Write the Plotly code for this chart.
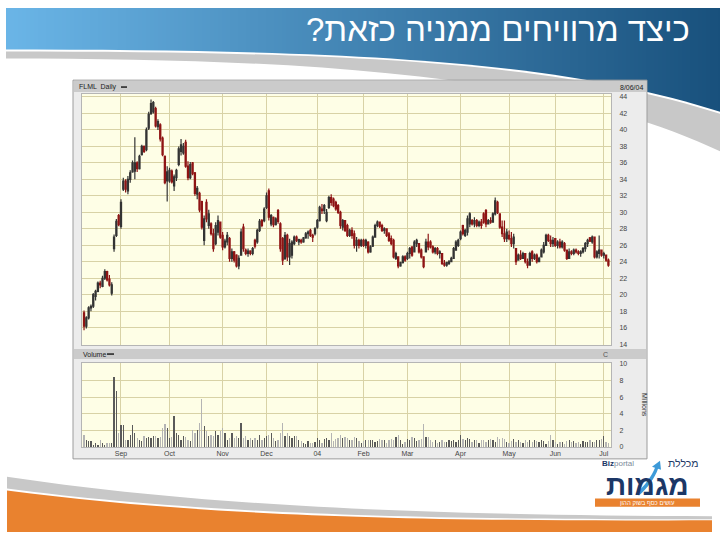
import pandas as pd
import plotly.graph_objects as go

# ---------------- data ----------------
opens = [
    17.8, 16.2, 17.2, 18.4, 18.6, 19.8, 20.4, 21.4, 21.0, 22.0, 22.8, 21.9, 20.2, 25.6, 27.2, 29.6,
    28.3, 32.8, 33.8, 32.6, 34.0, 34.9, 35.0, 36.0, 35.3, 37.0, 38.0, 37.6, 40.2, 42.0, 42.2, 42.6, 40.4, 40.6, 39.0, 36.8, 33.8,
    33.8, 35.0, 33.2, 34.2, 35.8, 37.4, 37.2, 38.5, 35.6, 34.2, 36.0, 34.8, 32.2, 32.3, 31.3, 26.6, 31.2, 28.4, 28.6, 27.4, 26.2, 27.6, 28.8,
    27.2, 25.8, 26.4, 26.8, 24.4, 25.2, 24.8, 23.5, 24.8, 28.2, 25.4, 25.0, 25.3, 25.0, 26.6, 26.4, 27.8, 29.0, 29.0,
    30.6, 32.6, 28.6, 29.4, 28.5, 30.2, 28.6, 26.8, 24.4, 27.2, 24.6, 24.8, 26.2, 27.0, 26.4, 26.6, 26.4, 26.9, 27.4, 27.8, 27.2, 27.4,
    28.2, 29.0, 30.4, 30.2, 29.0, 30.6, 31.8, 31.6, 31.2, 30.8, 30.0, 28.2, 29.0, 28.4, 27.2, 27.8, 27.4, 26.0, 26.6, 26.0,
    26.6, 26.0, 26.4, 25.2, 25.9, 27.0, 28.4, 28.8, 28.4, 27.8, 28.0, 27.4, 26.8, 26.6, 24.4, 24.6, 23.5, 23.9, 24.6,
    24.4, 25.0, 25.8, 25.2, 26.2, 26.2, 25.4, 24.6, 25.2, 26.4, 26.4, 25.8, 25.2, 25.6, 25.0, 25.0, 23.8, 23.6, 23.8, 24.0, 24.4, 25.4, 26.0,
    26.8, 28.4, 27.2, 27.6, 28.6, 29.0, 28.6, 29.0, 28.4, 28.8, 29.8, 30.2, 28.6, 29.0, 28.8, 29.8, 31.2, 29.8, 28.2, 27.4, 26.8,
    27.2, 26.8, 26.2, 25.6, 24.2, 24.8, 24.4, 25.0, 24.0, 23.6, 25.2, 24.4, 24.8, 24.0, 24.6, 25.2, 26.0, 27.2, 26.6, 26.2,
    26.8, 26.0, 26.4, 25.8, 26.2, 25.4, 24.4, 25.2, 25.0, 25.4, 25.2, 25.0, 25.2, 25.6, 26.2, 26.9, 26.4, 27.0, 24.6, 25.0, 25.4,
    24.8, 24.8, 24.2,
]
highs = [
    18.1, 17.4, 18.6, 18.8, 20.2, 20.6, 21.6, 21.7, 22.3, 23.1, 22.9, 22.4, 21.5, 27.3, 29.2, 29.8,
    31.6, 34.2, 34.0, 34.4, 35.1, 36.3, 39.1, 36.2, 37.0, 38.2, 38.1, 40.3, 42.2, 43.7, 43.5, 42.8, 41.3, 40.8, 39.2, 36.9, 35.6,
    35.4, 35.2, 34.6, 35.3, 38.0, 38.9, 38.4, 38.8, 36.2, 36.1, 36.1, 34.9, 33.2, 32.5, 31.4, 29.6, 31.6, 30.3, 28.8, 28.0, 28.8, 29.6, 28.9,
    27.6, 26.8, 27.6, 27.0, 25.6, 25.3, 24.9, 24.8, 28.0, 28.6, 25.6, 25.6, 25.4, 25.8, 26.8, 28.0, 29.2, 29.2, 30.6,
    32.4, 32.9, 29.8, 29.5, 29.4, 30.4, 28.8, 27.0, 27.6, 27.4, 26.8, 26.6, 27.2, 27.2, 26.8, 26.8, 27.0, 27.6, 27.8, 28.0, 27.4, 28.2,
    29.2, 30.8, 31.0, 31.0, 30.4, 32.0, 32.2, 31.8, 31.4, 31.0, 30.2, 29.2, 29.0, 28.6, 28.0, 28.2, 27.8, 27.0, 26.8, 26.8,
    26.8, 26.8, 26.5, 26.0, 27.2, 28.6, 29.0, 28.9, 28.6, 28.2, 28.0, 27.6, 27.2, 26.8, 25.2, 24.6, 24.0, 24.8, 24.8,
    25.2, 25.8, 25.8, 26.6, 26.8, 26.2, 25.6, 24.6, 26.8, 27.4, 26.6, 26.0, 25.8, 25.8, 25.4, 25.0, 24.2, 24.0, 24.2, 24.6, 25.8, 26.6, 26.8,
    27.8, 28.5, 28.0, 29.6, 30.0, 29.2, 29.4, 29.2, 29.0, 29.2, 30.0, 30.4, 29.2, 29.4, 30.0, 31.8, 31.4, 29.9, 29.0, 29.0, 28.0,
    27.8, 27.6, 27.4, 25.6, 25.0, 25.4, 25.2, 25.0, 24.4, 25.2, 25.4, 25.0, 25.0, 24.6, 25.6, 26.4, 27.4, 27.4, 27.2, 27.0,
    26.8, 26.6, 26.8, 26.6, 26.4, 25.4, 25.6, 25.4, 25.6, 25.6, 25.4, 25.4, 25.8, 26.4, 26.8, 27.0, 27.2, 27.0, 25.4, 27.2, 25.4,
    25.2, 24.8, 24.4,
]
lows = [
    15.7, 15.9, 17.0, 18.0, 18.4, 19.3, 20.3, 20.8, 20.9, 21.8, 21.6, 21.0, 19.9, 25.2, 27.0, 28.3,
    28.0, 32.6, 32.4, 32.2, 33.6, 34.8, 34.0, 34.9, 35.2, 36.9, 37.2, 37.4, 40.0, 41.8, 42.0, 40.3, 40.0, 38.6, 36.8, 33.4, 31.3,
    33.6, 33.5, 32.6, 33.8, 35.6, 36.9, 37.0, 35.4, 33.9, 34.0, 34.5, 32.0, 31.6, 30.0, 27.9, 26.0, 28.8, 28.0, 27.2, 25.2, 26.0, 27.2, 26.8,
    25.4, 25.6, 26.0, 24.0, 24.0, 23.9, 23.3, 23.1, 24.8, 25.2, 24.8, 24.6, 24.8, 24.8, 25.6, 26.2, 27.6, 28.2, 28.8,
    30.4, 29.0, 28.3, 28.2, 28.4, 28.6, 25.2, 23.6, 24.2, 24.1, 23.6, 24.4, 26.0, 26.4, 26.0, 26.2, 26.3, 26.8, 26.8, 27.0, 26.4, 27.2,
    28.0, 28.9, 29.8, 29.8, 28.8, 30.4, 30.8, 30.6, 30.2, 29.8, 28.0, 27.8, 27.6, 27.0, 27.0, 26.8, 25.6, 25.2, 25.6, 25.8,
    25.8, 25.6, 25.0, 25.1, 25.8, 26.9, 28.2, 28.1, 27.6, 27.4, 27.0, 26.4, 26.0, 24.4, 24.2, 23.2, 23.4, 23.8, 24.0,
    24.2, 24.4, 24.6, 25.2, 25.8, 25.0, 24.4, 23.2, 25.2, 25.4, 25.6, 25.0, 24.9, 24.8, 24.4, 23.6, 23.4, 23.4, 23.6, 24.0, 24.4, 25.4, 25.8,
    26.6, 27.2, 27.0, 27.2, 28.2, 28.4, 28.2, 28.2, 28.2, 28.0, 28.6, 28.2, 28.6, 28.6, 28.8, 29.6, 29.8, 28.0, 27.0, 26.4, 26.4,
    26.6, 25.8, 25.6, 23.6, 24.2, 24.2, 24.4, 23.8, 23.2, 23.6, 24.0, 24.2, 23.8, 24.0, 24.6, 25.0, 26.0, 26.4, 25.8, 25.8,
    25.8, 25.6, 25.6, 25.6, 25.2, 24.2, 24.4, 24.8, 24.8, 25.0, 24.8, 24.6, 25.0, 25.2, 25.8, 26.4, 26.2, 24.4, 24.4, 24.4, 24.6,
    24.4, 24.0, 23.4,
]
closes = [
    16.2, 17.2, 18.4, 18.6, 20.0, 20.4, 21.4, 21.2, 22.0, 22.8, 21.8, 21.2, 21.2, 27.0, 28.9, 28.5,
    31.2, 33.8, 32.8, 34.0, 34.8, 36.0, 36.0, 35.3, 36.8, 38.0, 37.4, 40.0, 41.9, 43.2, 43.3, 40.5, 41.0, 38.9, 37.0, 33.6, 34.9,
    35.1, 33.7, 34.3, 35.1, 37.7, 38.2, 38.0, 35.6, 34.2, 35.8, 34.7, 32.3, 32.9, 30.3, 28.2, 29.2, 29.2, 29.8, 27.4, 25.6, 28.4, 29.0, 27.0,
    25.8, 26.5, 27.2, 24.4, 25.2, 24.2, 23.5, 24.4, 27.6, 25.6, 25.0, 25.3, 25.0, 25.6, 25.9, 27.8, 28.9, 28.4, 30.4,
    32.0, 29.4, 29.6, 28.5, 29.2, 28.9, 25.6, 24.2, 27.2, 24.6, 26.2, 26.4, 27.0, 26.6, 26.7, 26.4, 26.9, 27.4, 27.6, 27.2, 27.0, 28.0,
    29.0, 30.6, 30.2, 30.8, 30.0, 31.8, 31.2, 30.8, 30.4, 30.0, 28.4, 29.0, 27.8, 27.2, 27.8, 27.2, 26.0, 26.6, 26.0, 26.6,
    26.0, 26.6, 25.2, 25.8, 27.0, 28.4, 28.8, 28.3, 27.8, 28.0, 27.2, 26.6, 26.2, 24.6, 25.0, 23.5, 23.9, 24.6, 24.2,
    25.0, 25.6, 24.8, 26.4, 26.6, 25.2, 24.6, 23.4, 26.4, 25.8, 25.8, 25.2, 25.6, 25.0, 25.2, 23.8, 23.6, 23.9, 24.0, 24.4, 25.6, 26.4, 26.6,
    27.6, 27.4, 27.8, 29.2, 29.8, 28.6, 29.0, 28.4, 28.8, 28.4, 28.8, 28.6, 29.0, 28.8, 29.8, 31.4, 30.0, 28.2, 27.4, 26.8, 27.6,
    26.8, 26.2, 27.0, 24.0, 24.8, 24.4, 25.0, 24.0, 23.6, 25.0, 24.4, 24.8, 24.0, 24.4, 25.4, 26.0, 27.2, 26.6, 26.2, 26.6,
    26.0, 26.4, 25.8, 26.4, 25.4, 24.4, 25.2, 25.0, 25.4, 25.2, 25.0, 25.2, 25.6, 26.2, 26.6, 26.5, 27.0, 24.6, 25.2, 25.4, 24.8,
    25.0, 24.2, 23.6,
]
volumes = [  # millions of shares
    1.5, 0.8, 0.7, 0.7, 0.3, 0.5, 0.3, 0.9, 0.5, 0.3, 0.5, 0.5, 0.5, 8.4, 6.8, 1.7,
    2.7, 2.7, 0.9, 0.9, 1.5, 2.7, 1.7, 1.1, 0.9, 0.7, 1.3, 1.1, 1.2, 1.1, 1.3, 1.3, 1.1, 1.2, 2.3, 2.8, 2.3,
    1.1, 1.2, 3.7, 1.7, 1.5, 0.9, 1.3, 1.2, 0.9, 0.7, 2.1, 1.7, 2.0, 2.9, 5.8, 2.5, 1.9, 1.3, 1.5, 1.3, 1.9, 1.5, 1.9,
    2.3, 1.7, 0.9, 1.1, 1.7, 1.1, 1.3, 1.1, 2.9, 1.1, 1.3, 0.9, 1.1, 0.9, 1.1, 0.9, 1.5, 0.9, 1.1,
    1.3, 1.5, 1.7, 1.1, 0.7, 0.9, 1.7, 2.9, 1.3, 1.7, 1.3, 1.1, 1.3, 1.3, 0.8, 0.7, 0.5, 0.4, 0.7, 0.5, 0.5, 0.55,
    1.1, 0.9, 0.5, 0.95, 1.1, 0.8, 1.7, 0.75, 0.95, 1.1, 1.5, 1.1, 1.2, 1.1, 0.9, 0.8, 1.2, 1.1, 0.7, 0.5,
    0.7, 0.9, 0.8, 0.9, 0.8, 0.6, 0.7, 1.0, 0.8, 0.8, 0.5, 0.8, 1.0, 0.8, 1.2, 1.5, 0.8, 0.4, 0.6,
    1.0, 0.8, 1.2, 1.1, 0.7, 0.8, 1.0, 2.8, 1.2, 1.2, 0.8, 0.6, 0.8, 0.5, 0.6, 0.8, 0.6, 0.6, 0.8, 0.7, 0.9, 0.6, 0.8,
    1.4, 1.0, 0.8, 1.1, 1.0, 0.6, 0.8, 0.8, 0.5, 0.8, 0.8, 0.6, 0.8, 1.0, 0.8, 0.6, 1.2, 1.0, 1.1, 1.0, 0.6,
    0.5, 0.7, 1.0, 0.6, 0.8, 0.6, 0.5, 0.9, 0.6, 0.8, 0.6, 0.8, 0.7, 0.6, 0.8, 0.7, 0.4, 0.7, 1.5, 0.8,
    0.6, 0.4, 0.6, 0.6, 0.4, 0.7, 0.8, 0.6, 0.7, 0.5, 0.6, 0.4, 0.7, 0.6, 0.6, 0.8, 0.6, 0.6, 0.8, 0.8, 1.0,
    1.3, 0.6, 0.5,
]
FIRST_DAY = "2003-08-08"
HOLIDAYS = ["2003-09-01", "2003-11-27", "2003-12-25", "2004-01-01", "2004-01-19",
            "2004-02-16", "2004-04-09", "2004-05-31", "2004-06-11", "2004-07-05"]
MONTH_LABELS = ["Sep", "Oct", "Nov", "Dec", "04", "Feb", "Mar", "Apr", "May", "Jun", "Jul"]
PRICE_TICKS = [14, 16, 18, 20, 22, 24, 26, 28, 30, 32, 34, 36, 38, 40, 42, 44]
VOLUME_TICKS = [0, 2, 4, 6, 8, 10]
TITLE = "כיצד מרוויחים ממניה כזאת?"
SYMBOL_LABEL = "FLML  Daily"
DATE_LABEL = "8/06/04"

# ---------------- helpers ----------------
W, H = 720, 540
FONT = "Liberation Sans, DejaVu Sans, sans-serif"


def px(x):
    return x / W


def py(y):
    return 1 - y / H


shapes = []
annotations = []


def rect(x0, y0, x1, y1, fill, line=None, lw=0):
    shapes.append(dict(type="rect", xref="paper", yref="paper", layer="below",
                       x0=px(x0), x1=px(x1), y0=py(y1), y1=py(y0), fillcolor=fill,
                       line=dict(color=line or fill, width=lw)))


def path(cmds, fill, line=None, lw=0):
    parts = []
    for c in cmds:
        op, pts = c[0], c[1:]
        parts.append(op + " ".join(f"{px(x):.5f},{py(y):.5f}" for x, y in pts))
    shapes.append(dict(type="path", xref="paper", yref="paper", layer="below",
                       path=" ".join(parts), fillcolor=fill,
                       line=dict(color=line or fill, width=lw)))


def text(x, y, s, size=7, color="#222", anchor="left", angle=0, family=FONT):
    annotations.append(dict(x=px(x), y=py(y), xref="paper", yref="paper", text=s,
                            showarrow=False, xanchor=anchor, yanchor="middle", borderpad=0,
                            textangle=angle, font=dict(size=size, color=color, family=family)))


# ---------------- slide decoration ----------------
# blue gradient header
c0, c1 = (106, 181, 231), (24, 80, 124)
x = 6
while x < 720:
    t = (x - 6) / 714
    col = "rgb(%d,%d,%d)" % tuple(round(a + (b - a) * t) for a, b in zip(c0, c1))
    rect(x, 5, x + 5, 160, col)
    x += 4
path([("M", (0, 47)), ("C", (350, 47), (560, 58), (720, 110)), ("L", (720, 170)), ("L", (0, 170)), ("Z",)], "white")
path([("M", (6, 49)), ("C", (350, 49), (560, 60), (720, 112)), ("L", (720, 150)),
      ("C", (560, 72), (300, 56), (6, 56)), ("Z",)], "#c8c8c8")

# bottom waves
path([("M", (7, 479)), ("C", (180, 505), (380, 518), (712, 519)), ("L", (712, 522)),
      ("C", (380, 523), (180, 514), (7, 491)), ("Z",)], "#c8c8c8")
path([("M", (7, 493)), ("C", (180, 516), (380, 525), (712, 523)), ("L", (712, 535)), ("L", (7, 535)), ("Z",)], "#e9822f")

# chart panel
rect(73, 78, 647, 461, "#ececec", "#9c9c9c", 1)
rect(74, 79, 646, 90, "#cbcbcb")
rect(74, 350, 646, 360, "#cbcbcb")
rect(82, 92, 611, 346, "#fefee6")
rect(82, 364, 611, 449, "#fefee6")
rect(121, 84.3, 127, 85.7, "#111")
rect(107, 354.3, 114, 355.7, "#111")

# logo
rect(595, 501, 700, 509.5, "#e9822f")
path([("M", (636, 496)), ("C", (645, 488), (652, 478), (655, 470)), ("L", (652, 469)), ("L", (660, 463)),
      ("L", (661, 472)), ("L", (658, 471)), ("C", (655, 480), (648, 490), (639, 498)), ("Z",)], "#3d9ad8")

# ---------------- texts ----------------
text(691, 27, TITLE + "\u200f", size=33, color="white", anchor="right")
text(78, 85, SYMBOL_LABEL, size=7, color="#222")
text(644, 85, DATE_LABEL, size=7, color="#222", anchor="right")
text(82, 355, "Volume", size=7, color="#222")
text(609, 355, "C", size=7, color="#555", anchor="right")
text(640, 406, "Millions", size=7, color="#333", angle=90)
text(700, 465.5, "מכללת", size=10.5, color="#1c3766", anchor="right")
text(601, 466, "<b>Biz</b><span style='color:#7d8a99'>portal</span>", size=8, color="#1c3766")
text(647, 488, "<b>מגמות</b>", size=28, color="#1c3766", anchor="center")
text(647, 506, "עושים כסף בשוק ההון", size=6, color="white", anchor="center")

# ---------------- chart ----------------
dates = pd.bdate_range(FIRST_DAY, periods=len(closes), freq="C", holidays=HOLIDAYS) + pd.Timedelta(hours=12)
month_starts = [d for i, d in enumerate(dates) if i > 0 and d.month != dates[i - 1].month]
vol_colors = ["#5a5a5a" if c >= o else "#b4b4b4" for o, c in zip(opens, closes)]

fig = go.Figure()
fig.add_trace(go.Candlestick(
    x=dates, open=opens, high=highs, low=lows, close=closes, xaxis="x", yaxis="y",
    increasing=dict(line=dict(color="#333333", width=1.2), fillcolor="#8a8a8a"),
    decreasing=dict(line=dict(color="#8e1414", width=1.2), fillcolor="#c93434"),
    whiskerwidth=0, showlegend=False, hoverinfo="skip"))
fig.add_trace(go.Bar(
    x=dates, y=volumes, xaxis="x2", yaxis="y2", marker=dict(color=vol_colors, line=dict(width=0)),
    width=0.55 * 86400000, showlegend=False, hoverinfo="skip"))

grid = "#d8d2a6"
x_range = ["2003-08-07 15:00", "2004-07-07 15:00"]
rb = [dict(bounds=["sat", "mon"]), dict(values=HOLIDAYS)]
common_x = dict(type="date", range=x_range, rangebreaks=rb, tickvals=month_starts,
                ticktext=MONTH_LABELS[:len(month_starts)], showgrid=True, gridcolor=grid,
                gridwidth=1, ticks="", zeroline=False, showline=True, mirror=True,
                linecolor="#b5b5b5", linewidth=1, fixedrange=True,
                tickfont=dict(size=7, color="#444", family=FONT), rangeslider=dict(visible=False))
common_y = dict(side="right", showgrid=True, gridcolor=grid, gridwidth=1, ticks="", zeroline=False,
                showline=True, mirror=True, linecolor="#b5b5b5", linewidth=1, fixedrange=True,
                ticklabelstandoff=6, tickfont=dict(size=7, color="#444", family=FONT))

fig.update_layout(
    width=W, height=H, autosize=False, margin=dict(l=0, r=0, t=0, b=0),
    paper_bgcolor="white", plot_bgcolor="rgba(0,0,0,0)", showlegend=False,
    xaxis=dict(common_x, domain=[px(82), px(611)], anchor="y", showticklabels=False),
    yaxis=dict(common_y, domain=[py(346), py(92)], anchor="x", range=[13.88, 44.36], tickvals=PRICE_TICKS),
    xaxis2=dict(common_x, domain=[px(82), px(611)], anchor="y2", showticklabels=True),
    yaxis2=dict(common_y, domain=[py(449), py(364)], anchor="x2", range=[0, 10.12], tickvals=VOLUME_TICKS),
    bargap=0, shapes=shapes, annotations=annotations,
)

fig.write_html("out.html", config=dict(displayModeBar=False, staticPlot=True),
               post_script="document.body.style.margin='0';document.body.style.overflow='hidden';")
